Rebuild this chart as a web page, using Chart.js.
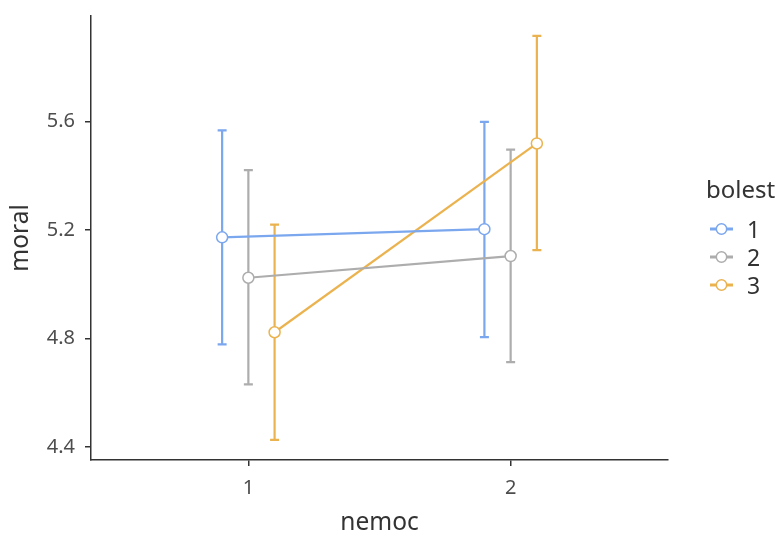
<!DOCTYPE html>
<html>
<head>
<meta charset="utf-8">
<script src="https://cdn.jsdelivr.net/npm/chart.js@4/dist/chart.umd.min.js"></script>
<style>
  html, body { margin: 0; padding: 0; background: #ffffff; }
  #wrap { width: 780px; height: 533px; }
</style>
</head>
<body>
<div id="wrap"><canvas id="c" width="780" height="533"></canvas></div>
<script>
// nemoc levels on the x axis, bolest groups as series
const nemocLevels = [1, 2];
const bolestLevels = ['1', '2', '3'];

// group means of moral
const meanBolest1 = [5.173, 5.203];
const meanBolest2 = [5.024, 5.104];
const meanBolest3 = [4.823, 5.519];

// interval bounds around each mean
const lowerBolest1 = [4.778, 4.805];
const upperBolest1 = [5.567, 5.599];
const lowerBolest2 = [4.631, 4.713];
const upperBolest2 = [5.421, 5.496];
const lowerBolest3 = [4.426, 5.126];
const upperBolest3 = [5.220, 5.916];

const yTickValues = [4.4, 4.8, 5.2, 5.6];

const means = [meanBolest1, meanBolest2, meanBolest3];
const lowers = [lowerBolest1, lowerBolest2, lowerBolest3];
const uppers = [upperBolest1, upperBolest2, upperBolest3];

const colours = ['#7BA7EF', '#ADADAD', '#EBB34F'];
const dodgeWidth = 0.1;
const FONT = '"Noto Sans", "Open Sans", Arial, sans-serif';
const AXIS = '#333333';
const TICKTEXT = '#4D4D4D';

const datasets = bolestLevels.map((lvl, i) => ({
  label: lvl,
  data: nemocLevels.map((n, j) => ({
    x: n + (i - 1) * dodgeWidth,
    y: means[i][j],
    lo: lowers[i][j],
    hi: uppers[i][j]
  })),
  borderColor: colours[i],
  borderWidth: 2.2,
  pointRadius: 5.5,
  pointHoverRadius: 5.5,
  pointBackgroundColor: '#ffffff',
  pointBorderColor: colours[i],
  pointBorderWidth: 1.5,
  tension: 0,
  fill: false
}));

// vertical interval whiskers with short caps, drawn under the lines
const errorBars = {
  id: 'errorBars',
  beforeDatasetsDraw(chart) {
    const { ctx, scales: { x, y } } = chart;
    const cap = 4.5;
    ctx.save();
    chart.data.datasets.forEach((ds) => {
      ctx.strokeStyle = ds.borderColor;
      ctx.lineWidth = 2.2;
      ds.data.forEach((d) => {
        const px = x.getPixelForValue(d.x);
        const yLo = y.getPixelForValue(d.lo);
        const yHi = y.getPixelForValue(d.hi);
        ctx.beginPath();
        ctx.moveTo(px, yLo);
        ctx.lineTo(px, yHi);
        ctx.moveTo(px - cap, yLo);
        ctx.lineTo(px + cap, yLo);
        ctx.moveTo(px - cap, yHi);
        ctx.lineTo(px + cap, yHi);
        ctx.stroke();
      });
    });
    ctx.restore();
  }
};

// legend on the right: title plus line-and-circle keys
const sideLegend = {
  id: 'sideLegend',
  afterDraw(chart) {
    const { ctx } = chart;
    ctx.save();
    ctx.fillStyle = AXIS;
    ctx.font = '24px ' + FONT;
    ctx.textAlign = 'left';
    ctx.textBaseline = 'alphabetic';
    ctx.fillText('bolest', 706, 198);
    const keyY0 = 229;
    const keyStep = 28;
    chart.data.datasets.forEach((ds, i) => {
      const cy = keyY0 + i * keyStep;
      ctx.strokeStyle = ds.borderColor;
      ctx.lineWidth = 3;
      ctx.beginPath();
      ctx.moveTo(710, cy);
      ctx.lineTo(733, cy);
      ctx.stroke();
      ctx.beginPath();
      ctx.arc(721.5, cy, 5.2, 0, Math.PI * 2);
      ctx.fillStyle = '#ffffff';
      ctx.fill();
      ctx.lineWidth = 1.5;
      ctx.stroke();
      ctx.fillStyle = AXIS;
      ctx.font = '23px ' + FONT;
      ctx.textBaseline = 'alphabetic';
      ctx.fillText(ds.label, 747, cy + 8.5);
    });
    ctx.restore();
  }
};

new Chart(document.getElementById('c'), {
  type: 'line',
  data: { datasets },
  plugins: [errorBars, sideLegend],
  options: {
    responsive: false,
    animation: false,
    devicePixelRatio: 1,
    layout: { padding: { top: 16, right: 112, left: 0, bottom: 0 } },
    plugins: { legend: { display: false }, tooltip: { enabled: false } },
    scales: {
      x: {
        type: 'linear',
        min: 0.4,
        max: 2.6,
        afterBuildTicks: (s) => { s.ticks = nemocLevels.map((v) => ({ value: v })); },
        afterFit: (s) => { s.height = 73; s.paddingLeft = 0; s.paddingRight = 0; },
        border: { color: AXIS, width: 1.5 },
        grid: { drawOnChartArea: false, drawTicks: true, tickLength: 6, color: AXIS, lineWidth: 1.5 },
        ticks: { color: TICKTEXT, font: { family: FONT, size: 20 }, padding: 10, maxRotation: 0, autoSkip: false, callback: (v) => String(v) },
        title: { display: true, text: 'nemoc', color: AXIS, font: { family: FONT, size: 24.5, lineHeight: 0.8 }, padding: { top: 0, bottom: 0 } }
      },
      y: {
        min: 4.352,
        max: 5.989,
        afterBuildTicks: (s) => { s.ticks = yTickValues.map((v) => ({ value: v })); },
        afterFit: (s) => { s.width = 91; s.paddingTop = 0; s.paddingBottom = 0; },
        border: { color: AXIS, width: 1.5 },
        grid: { drawOnChartArea: false, drawTicks: true, tickLength: 6, color: AXIS, lineWidth: 1.5 },
        ticks: { color: TICKTEXT, font: { family: FONT, size: 20 }, padding: 10, callback: (v) => Number(v).toFixed(1) },
        title: { display: true, text: 'moral', color: AXIS, font: { family: FONT, size: 24.5, lineHeight: 0.8 }, padding: { top: 11, bottom: 0 } }
      }
    }
  }
});
</script>
</body>
</html>
